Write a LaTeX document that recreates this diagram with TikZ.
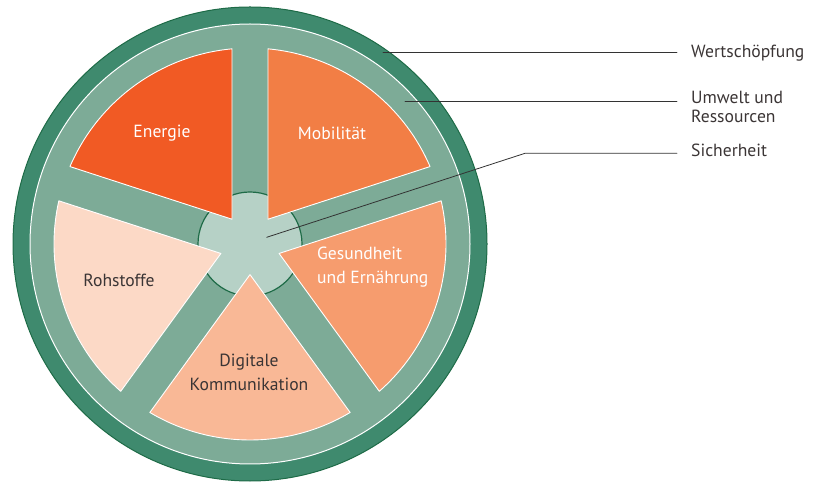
\documentclass[tikz,border=0pt]{standalone}
\usepackage{fontspec}
\setmainfont{PT Sans}
\definecolor{ringdark}{HTML}{3F8A6E}
\definecolor{ringline}{HTML}{1E6B47}
\definecolor{ringmid}{HTML}{7DAB97}
\definecolor{hubfill}{HTML}{B6D1C6}
\definecolor{energiecol}{HTML}{F15A24}
\definecolor{mobilcol}{HTML}{F27E45}
\definecolor{gesundcol}{HTML}{F69C6E}
\definecolor{digitalcol}{HTML}{F9B896}
\definecolor{rohcol}{HTML}{FCD9C6}
\definecolor{textdark}{HTML}{3B3535}
\definecolor{leadcol}{HTML}{333333}
\tikzset{
  sectorlabel/.style={font=\fontsize{17.6}{24}\selectfont, align=center, inner sep=0pt},
  sidelabel/.style={font=\fontsize{17.6}{19}\selectfont, text=textdark, align=left, anchor=west, inner xsep=14pt, inner ysep=0pt},
  leader/.style={draw=leadcol, line width=.8pt}
}
\begin{document}
\begin{tikzpicture}[x=1pt, y=1pt, line join=round, line cap=round]
	\useasboundingbox (0,0) rectangle (814,482);
	\def\R{196} \def\d{30.6} \def\h{30.73}
	\begin{scope}[shift={(250,238)}]
		\filldraw[fill=ringdark, draw=ringline, line width=1pt] (0,0) circle (237);
		\filldraw[fill=ringmid, draw=white, line width=1pt] (0,0) circle (220);
		\filldraw[fill=hubfill, draw=ringline, line width=1.2pt] (0,0) circle (52);
		\foreach \a/\col in {126/energiecol, 54/mobilcol, -18/gesundcol, -90/digitalcol, 198/rohcol}
			\filldraw[fill=\col, draw=white, line width=.9pt] (\a:\d) -- ({\a+\h}:\R) arc[start angle=\a+\h, end angle=\a-\h, radius=\R] -- cycle;
		% anchor points of the leaders
		\coordinate (pwert) at (133,192);
		\coordinate (pumwelt) at (155,142.3);
		\coordinate (psicher) at (16.7,6.7);
	\end{scope}
	% sector labels
	\node[sectorlabel, text=white] (energie) at (162,349) {Energie};
	\node[sectorlabel, text=white] (mobil) at (332,349) {Mobilität};
	\node[sectorlabel, text=white, align=left, anchor=west] (gesund) at (317,215) {Gesundheit\\und Ernährung};
	\node[sectorlabel, text=textdark] (roh) at (119,202) {Rohstoffe};
	\node[sectorlabel, text=textdark] (digital) at (249,110) {Digitale\\Kommunikation};
	% side labels
	\node[sidelabel] (wert) at (677,429) {Wertschöpfung};
	\node[sidelabel] (umwelt) at (677,375.5) {Umwelt und\\Ressourcen};
	\node[sidelabel] (sicher) at (677,332) {Sicherheit};
	\coordinate (knee) at (525,328.7);
	\draw[leader] (pwert) -- (pwert -| wert.west);
	\draw[leader] (pumwelt) -- (pumwelt -| umwelt.west);
	\draw[leader] (psicher) -- (knee) -- (knee -| sicher.west);
\end{tikzpicture}
\end{document}
